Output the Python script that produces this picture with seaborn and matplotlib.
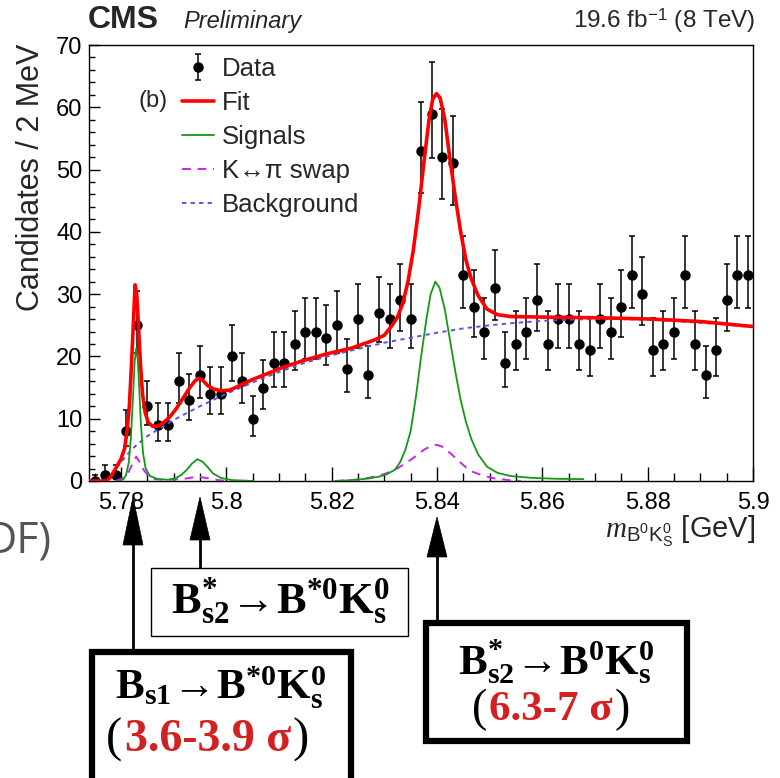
import numpy as np
import pandas as pd
import seaborn as sns
import matplotlib
matplotlib.use("Agg")
import matplotlib.pyplot as plt
from matplotlib.lines import Line2D
from matplotlib.patches import Polygon, Rectangle
from matplotlib.ticker import MultipleLocator

# ---------------- data ----------------
mass_min, mass_max, bin_w = 5.774, 5.900, 0.002
counts = [0, 1, 1, 8, 25, 12, 9, 9, 16, 13, 17, 14, 14, 20, 16, 10, 15, 19,
          19, 22, 24, 24, 23, 25, 18, 26, 17, 27, 26, 29, 26,
          53, 59, 52, 51, 33, 28, 24, 31, 19, 22, 24, 29, 22, 26, 26, 22, 21, 26,
          24, 28, 33, 30, 21, 22, 24, 33, 22, 17, 21, 29, 33, 33]

fit_m = [5.7740, 5.7772, 5.7780, 5.7790, 5.7800, 5.7807, 5.7812, 5.7816, 5.7820,
         5.7824, 5.7827, 5.7830, 5.7833, 5.7837, 5.7841, 5.7846, 5.7852, 5.7860,
         5.7870, 5.7880, 5.7893, 5.7905, 5.7918, 5.7930, 5.7940, 5.7947, 5.7955,
         5.7965, 5.7975, 5.7990, 5.8007, 5.8030, 5.8050, 5.8080, 5.8103, 5.8141,
         5.8190, 5.8236, 5.8260, 5.8280, 5.8300, 5.8315, 5.8325, 5.8335, 5.8345,
         5.8355, 5.8365, 5.8375, 5.8385, 5.8392, 5.8399, 5.8406, 5.8415, 5.8425,
         5.8435, 5.8445, 5.8455, 5.8465, 5.8478, 5.8495, 5.8515, 5.8540, 5.8616,
         5.8711, 5.8806, 5.8901, 5.9000]
fit_v = [0.0, 0.0, 0.6, 2.0, 3.5, 5.2, 8.2, 12.0, 18.5,
         26.0, 31.5, 30.0, 25.5, 19.0, 14.0, 11.0, 9.4, 8.8,
         8.8, 9.3, 10.3, 11.6, 13.3, 14.9, 16.0, 16.5, 16.2,
         15.3, 14.8, 14.5, 14.6, 15.5, 16.3, 17.3, 18.1, 19.2,
         20.4, 21.3, 22.0, 22.6, 23.4, 25.0, 26.3, 28.5, 32.0,
         37.0, 43.5, 51.0, 58.0, 61.3, 62.2, 61.5, 58.0, 51.5,
         45.5, 40.0, 35.5, 32.5, 29.8, 27.6, 26.7, 26.4, 26.3,
         26.2, 26.0, 25.6, 24.8]

bkg_m = [5.7772, 5.7776, 5.7780, 5.7790, 5.7800, 5.7810, 5.7820, 5.7830, 5.7850,
         5.7900, 5.7950, 5.8000, 5.8050, 5.8100, 5.8150, 5.8200, 5.8250, 5.8300,
         5.8350, 5.8400, 5.8450, 5.8500, 5.8550, 5.8600, 5.8650, 5.8700, 5.8750,
         5.8800, 5.8850, 5.8900, 5.8950, 5.9000]
bkg_v = [0.0, 0.3, 0.8, 2.0, 3.0, 4.0, 5.0, 5.8, 7.2,
         9.8, 12.0, 14.0, 15.8, 17.5, 19.0, 20.2, 21.2, 22.2,
         23.0, 23.8, 24.5, 25.0, 25.4, 25.7, 25.9, 26.0, 26.0,
         25.9, 25.7, 25.4, 25.1, 24.7]

sig1_m = [5.7795, 5.7805, 5.7810, 5.7815, 5.7819, 5.7823, 5.7826, 5.7829, 5.7832,
          5.7835, 5.7838, 5.7842, 5.7847, 5.7855, 5.7870, 5.7890, 5.7905, 5.7915,
          5.7925, 5.7935, 5.7945, 5.7955, 5.7965, 5.7975, 5.7990, 5.8010, 5.8052]
sig1_v = [0.0, 0.3, 1.0, 3.0, 7.0, 13.5, 19.0, 21.3, 19.5,
          14.5, 9.0, 4.5, 2.0, 0.8, 0.3, 0.2, 0.5, 1.0,
          1.8, 2.8, 3.5, 3.1, 2.2, 1.2, 0.5, 0.15, 0.0]

sig2_m = [5.8207, 5.8240, 5.8270, 5.8290, 5.8305, 5.8320, 5.8330, 5.8340, 5.8350,
          5.8360, 5.8370, 5.8380, 5.8388, 5.8397, 5.8405, 5.8415, 5.8425, 5.8435,
          5.8445, 5.8455, 5.8465, 5.8478, 5.8495, 5.8515, 5.8540, 5.8580, 5.8630,
          5.8678]
sig2_v = [0.0, 0.15, 0.4, 0.7, 1.1, 1.8, 3.0, 5.0, 8.0,
          13.5, 20.0, 26.0, 30.0, 32.0, 31.0, 27.5, 22.5, 17.5,
          13.0, 9.5, 6.8, 4.3, 2.3, 1.3, 0.8, 0.5, 0.35,
          0.3]

swap1_m = [5.7790, 5.7805, 5.7815, 5.7822, 5.7829, 5.7836, 5.7843, 5.7852, 5.7865,
           5.7885, 5.7920, 5.7945, 5.7965, 5.7985, 5.8000]
swap1_v = [0.0, 0.5, 1.5, 2.8, 3.9, 3.0, 1.8, 0.8, 0.3,
           0.15, 0.35, 0.7, 0.45, 0.15, 0.0]

swap2_m = [5.8206, 5.8240, 5.8270, 5.8300, 5.8320, 5.8340, 5.8360, 5.8375, 5.8390,
           5.8400, 5.8410, 5.8425, 5.8440, 5.8455, 5.8470, 5.8490, 5.8510, 5.8540,
           5.8560]
swap2_v = [0.0, 0.15, 0.5, 1.1, 1.8, 2.8, 4.0, 5.0, 5.7,
           5.8, 5.5, 4.5, 3.3, 2.2, 1.4, 0.8, 0.4, 0.1,
           0.0]

xticks = [5.78, 5.80, 5.82, 5.84, 5.86, 5.88, 5.90]
xtick_labels = ["5.78", "5.8", "5.82", "5.84", "5.86", "5.88", "5.9"]
yticks = [0, 10, 20, 30, 40, 50, 60, 70]

# ---------------- style ----------------
sns.set_theme(style="ticks")
plt.rcParams["font.family"] = ["Liberation Sans", "DejaVu Sans"]
plt.rcParams["mathtext.fontset"] = "custom"
plt.rcParams["mathtext.rm"] = "Liberation Sans"
plt.rcParams["mathtext.sf"] = "Liberation Sans"
plt.rcParams["mathtext.it"] = "Liberation Serif:italic"
plt.rcParams["mathtext.bf"] = "Liberation Serif:bold"

W, H = 780, 778
fig = plt.figure(figsize=(W / 100, H / 100), dpi=100)
fig.patch.set_facecolor("white")
L, R, T, B = 89.3, 753.0, 45.0, 481.0


def fx(px):
    return px / W


def fy(py):
    return 1 - py / H


ax = fig.add_axes([fx(L), fy(B), (R - L) / W, (B - T) / H])
ax.set_facecolor("white")

centers = mass_min + bin_w * (np.arange(len(counts)) + 0.5)
n = np.array(counts, dtype=float)
err_lo = np.sqrt(n + 0.25) - 0.5
err_hi = np.sqrt(n + 0.25) + 0.5
df = pd.DataFrame({"m": centers, "n": n})

eb = ax.errorbar(df["m"], df["n"], yerr=[err_lo, err_hi], fmt="o", color="black",
                 ms=6.5, elinewidth=1.1, capsize=2.2, capthick=1.1, zorder=3,
                 label="Data")

RED, GREEN, MAG, BLUE = "#ff0000", "#149914", "#cc22ee", "#5555ee"

sns.lineplot(x=bkg_m, y=bkg_v, ax=ax, color=BLUE, lw=1.4, sort=False,
             estimator=None, zorder=4)
ax.lines[-1].set_dashes([2.2, 2.2])
for mm, vv in [(swap1_m, swap1_v), (swap2_m, swap2_v)]:
    sns.lineplot(x=mm, y=vv, ax=ax, color=MAG, lw=1.4, sort=False,
                 estimator=None, zorder=4)
    ax.lines[-1].set_dashes([4.5, 3.5])
for mm, vv in [(sig1_m, sig1_v), (sig2_m, sig2_v)]:
    sns.lineplot(x=mm, y=vv, ax=ax, color=GREEN, lw=1.3, sort=False,
                 estimator=None, zorder=4)
sns.lineplot(x=fit_m, y=fit_v, ax=ax, color=RED, lw=2.6, sort=False,
             estimator=None, zorder=5)
for ln in ax.lines:
    ln.set_solid_joinstyle("round")
    ln.set_dash_joinstyle("round")

ax.set_xlim(mass_min, mass_max)
ax.set_ylim(0, 70)
ax.set_xticks(xticks)
ax.set_xticklabels(xtick_labels)
ax.set_yticks(yticks)
ax.xaxis.set_minor_locator(MultipleLocator(0.005))
ax.yaxis.set_minor_locator(MultipleLocator(2))
ax.tick_params(axis="both", which="both", direction="in", top=False, right=False,
               colors="black", width=1.0, labelsize=17)
ax.tick_params(axis="x", which="major", length=10, pad=8)
ax.tick_params(axis="x", which="minor", length=5.5)
ax.tick_params(axis="y", which="major", length=8, pad=5)
ax.tick_params(axis="y", which="minor", length=4.5)
for s in ax.spines.values():
    s.set_color("black")
    s.set_linewidth(1.0)
ax.set_xlabel("")
ax.set_ylabel("")
ax.grid(False)

# legend
handles = [eb,
           Line2D([], [], color=RED, lw=2.6),
           Line2D([], [], color=GREEN, lw=1.3),
           Line2D([], [], color=MAG, lw=1.4, dashes=[4.5, 3.5]),
           Line2D([], [], color=BLUE, lw=1.4, dashes=[2.2, 2.2])]
labels = ["Data", "Fit", "Signals", "K\u2194\u03c0 swap", "Background"]
leg = ax.legend(handles, labels, loc="upper left",
                bbox_to_anchor=((182 - L) / (R - L), (B - 57) / (B - T)),
                frameon=False, fontsize=18.5, handlelength=1.25, handletextpad=0.3,
                labelspacing=0.39, borderpad=0, borderaxespad=0)

fig.text(fx(138), fy(107), "(b)", fontsize=17, ha="left", va="baseline")

# header
fig.text(fx(88), fy(28), "CMS", fontsize=23, weight="bold", ha="left", va="baseline")
fig.text(fx(183), fy(28), "Preliminary", fontsize=17, style="italic", ha="left",
         va="baseline")
fig.text(fx(755), fy(28), r"19.6 fb$^{-1}$ (8 TeV)", fontsize=17.5, ha="right",
         va="baseline")

# axis titles
fig.text(fx(31), fy(44), "Candidates / 2 MeV", fontsize=22, rotation=90,
         ha="center", va="top")
fig.text(fx(755), fy(537), r"$m_{\mathsf{B^0K^0_S}}$ [GeV]", fontsize=21,
         ha="right", va="baseline")

# background slide fragment (cut at the left edge as in the reference)
fig.text(fx(-14), fy(552), "DF)", fontsize=31, color="#555555",
         family=["Open Sans", "DejaVu Sans"], ha="left", va="baseline")


# arrows
def arrow(xc, tip, base, tail, hw=10):
    fig.patches.append(Polygon([[fx(xc), fy(tip)], [fx(xc - hw), fy(base)],
                                [fx(xc + hw), fy(base)]], closed=True,
                               transform=fig.transFigure, facecolor="black",
                               edgecolor="black", lw=0.5, zorder=5))
    fig.lines.append(Line2D([fx(xc), fx(xc)], [fy(base - 2), fy(tail)],
                            transform=fig.transFigure, color="black", lw=2.0,
                            zorder=5))


arrow(133, 497, 545, 652)
arrow(200, 497, 540, 568)
arrow(437, 517, 557, 622)


def box(x0, y0, x1, y1, lw):
    fig.patches.append(Rectangle((fx(x0), fy(y1)), fx(x1) - fx(x0), fy(y0) - fy(y1),
                                 transform=fig.transFigure, facecolor="white",
                                 edgecolor="black", lw=lw, zorder=6))


box(151, 568, 408, 636, 1.0)
box(92, 652, 351, 800, 4.5)
box(426, 623, 687, 741, 4.5)

bf = dict(ha="center", va="center", zorder=7, color="black")
fig.text(fx(280), fy(601), r"$\mathbf{B^{*}_{s2}\!\rightarrow\!B^{*0}K^{0}_{s}}$",
         fontsize=32, **bf)
fig.text(fx(221), fy(688), r"$\mathbf{B_{s1}\!\rightarrow\!B^{*0}K^{0}_{s}}$",
         fontsize=31, **bf)
fig.text(fx(556), fy(662), r"$\mathbf{B^{*}_{s2}\!\rightarrow\!B^{0}K^{0}_{s}}$",
         fontsize=31, **bf)

renderer = fig.canvas.get_renderer()


def sigma_line(xc, yc, s, size):
    t = fig.text(fx(xc), fy(yc), s, fontsize=size, weight="bold", color="#d42020",
                 family=["Liberation Serif", "DejaVu Serif"], ha="center",
                 va="center", zorder=7)
    bb = t.get_window_extent(renderer=renderer)
    x0, x1 = bb.x0 / fig.bbox.width, bb.x1 / fig.bbox.width
    fig.text(x0 - 0.003, fy(yc), "(", fontsize=size + 2, color="black",
             family=["Liberation Serif"], ha="right", va="center", zorder=7)
    fig.text(x1 + 0.002, fy(yc), ")", fontsize=size + 2, color="black",
             family=["Liberation Serif"], ha="left", va="center", zorder=7)


sigma_line(208, 740, "3.6-3.9 \u03c3", 33)
sigma_line(551, 710, "6.3-7 \u03c3", 31)

fig.savefig("out.png", dpi=100, facecolor="white")
